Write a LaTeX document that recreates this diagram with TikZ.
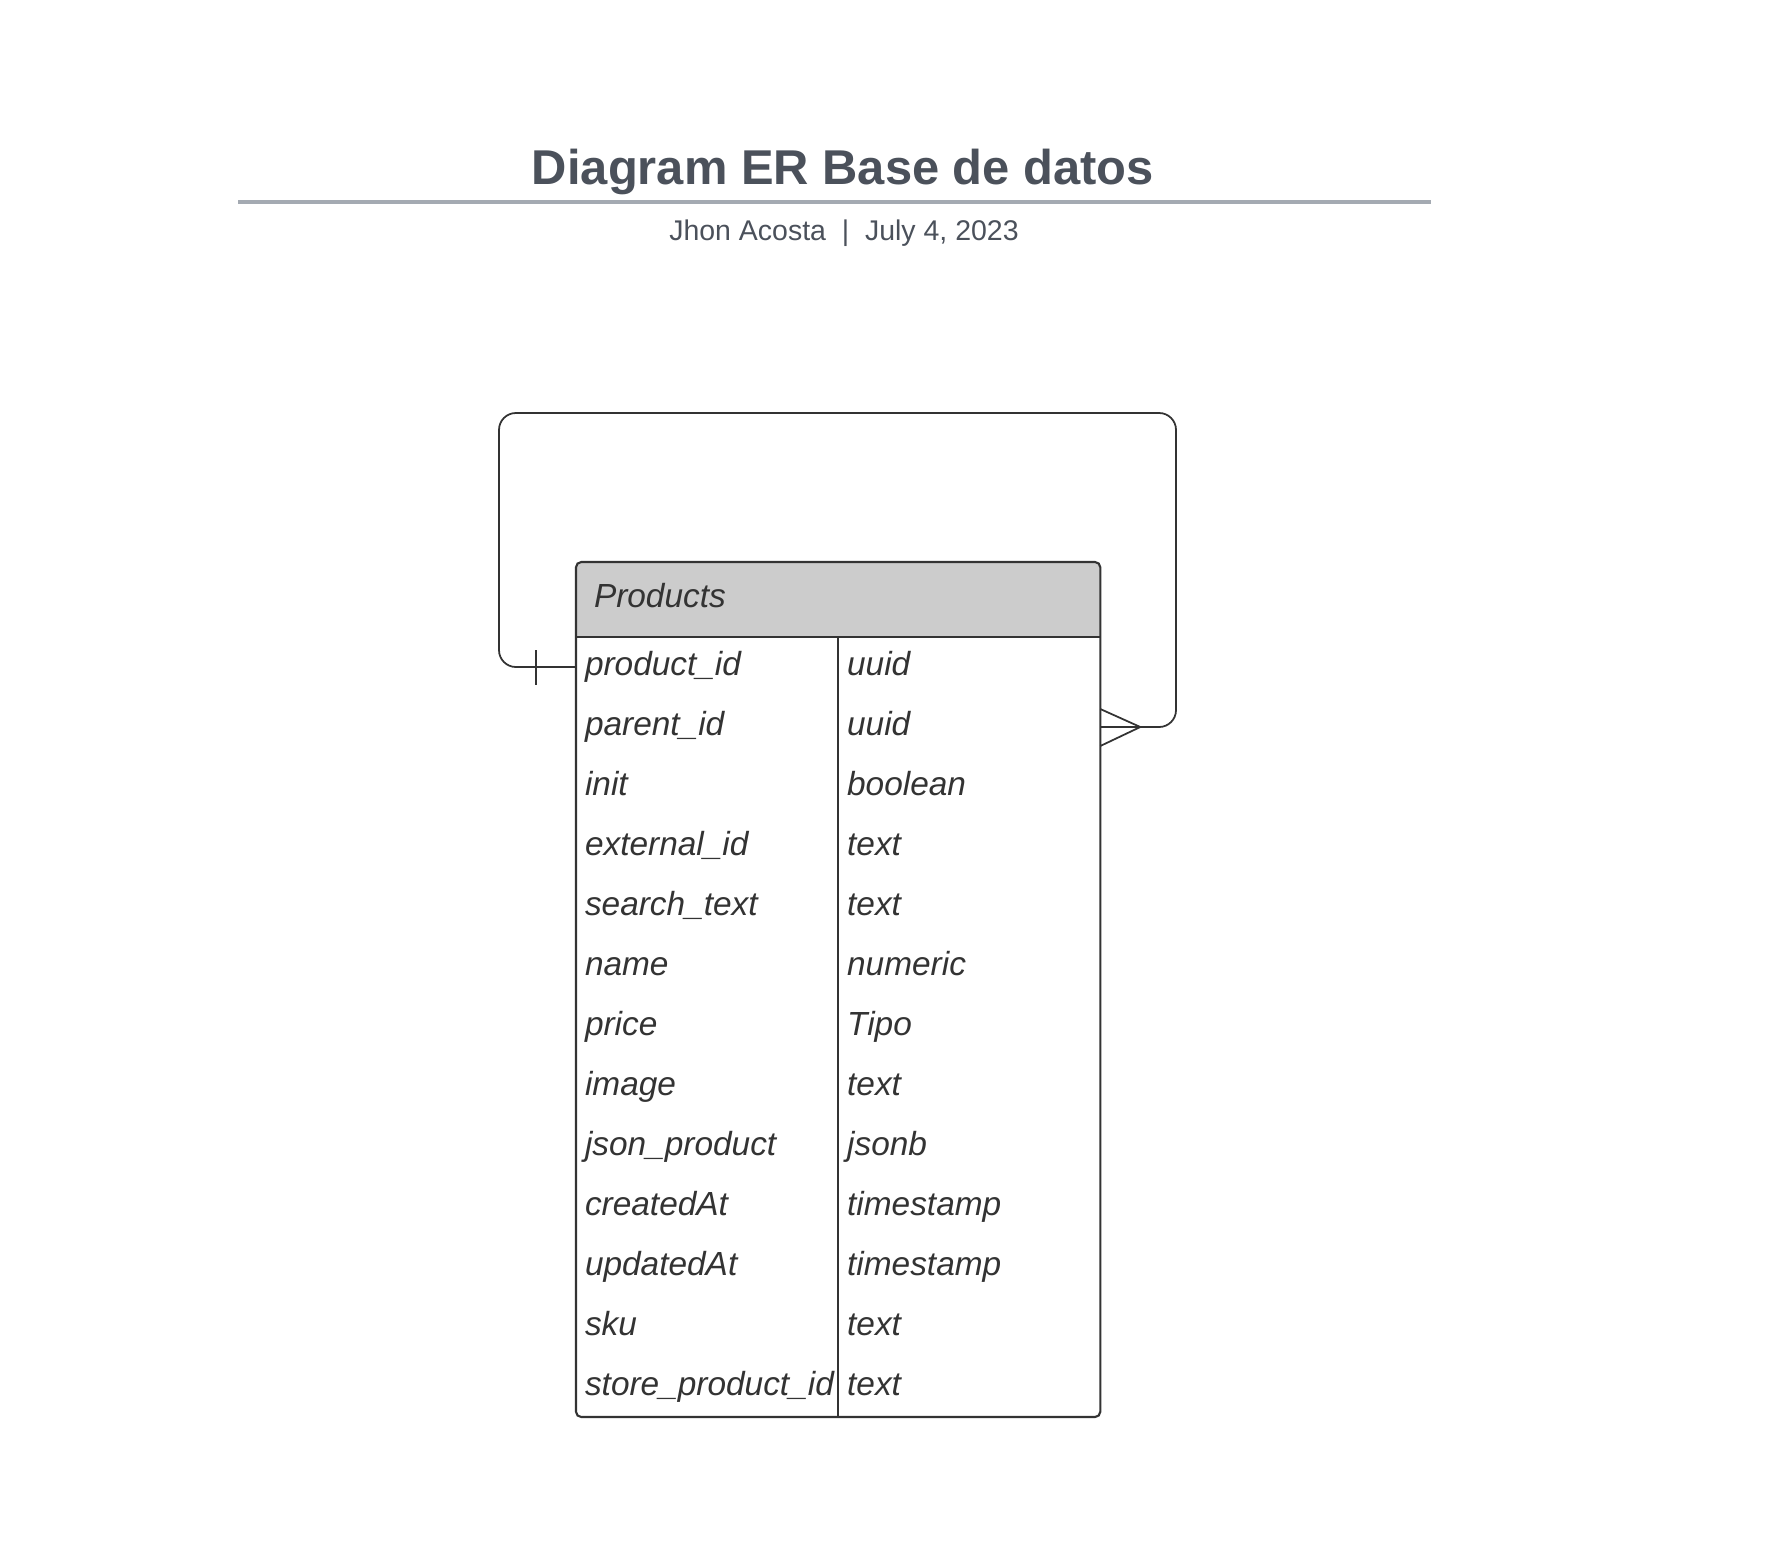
\documentclass[tikz,border=0pt]{standalone}
\usepackage{fontspec}
\setmainfont{Liberation Sans}
\usetikzlibrary{positioning, calc}
\definecolor{ink}{HTML}{333333}
\definecolor{titleink}{HTML}{4B515B}
\definecolor{rulegrey}{HTML}{A4AAB2}
\definecolor{headgrey}{HTML}{CCCCCC}
\tikzset{
  diagtitle/.style = {font=\fontsize{13.9}{16}\selectfont\bfseries, text=titleink, anchor=base, inner sep=0pt},
  byline/.style    = {font=\fontsize{8.1}{10}\selectfont, text=titleink, anchor=base, inner sep=0pt},
  cell/.style      = {font=\fontsize{9.5}{11}\selectfont\itshape, text=ink, align=left,
                      text width=2.44cm, inner xsep=0.09cm, inner ysep=0pt, outer sep=0pt,
                      text height=0.75em, text depth=0.25em, minimum height=0.6cm},
  frame/.style     = {draw=ink, line width=0.6pt},
  rel/.style       = {draw=ink, line width=0.5pt},
}
\begin{document}
\begin{tikzpicture}[x=0.01cm, y=-0.01cm]
  \useasboundingbox (0,0) rectangle (1778,1545);

  \node[diagtitle] (title) at (843,184) {Diagram ER Base de datos};
  \draw[rulegrey, line width=1pt] (238,202) -- (1431,202);
  \node[byline] (byline) at (844,240) {Jhon Acosta~~|~~July 4, 2023};

  % table
  \fill[headgrey, rounded corners=1.5pt] (576,562) rectangle (1100,637);
  \fill[headgrey] (576,610) rectangle (1100,637);
  \node[cell, anchor=west, inner xsep=0.18cm] (head) at (576,599) {Products};

  \foreach \fname/\ftype [count=\i] in {product\_id/uuid, parent\_id/uuid, init/boolean,
      external\_id/text, search\_text/text, name/numeric, price/Tipo, image/text,
      json\_product/jsonb, createdAt/timestamp, updatedAt/timestamp, sku/text,
      store\_product\_id/text} {
    \node[cell, anchor=west] (n\i) at (576,607+60*\i) {\fname};
    \node[cell, right=0pt of n\i] (t\i) {\ftype};
  }

  \draw[frame, rounded corners=1.5pt] (576,562) rectangle (t13.south east);
  \draw[frame] (n1.north west) -- (t1.north east);
  \draw[frame] (n1.north east) -- (n13.south east);

  % self relation
  \coordinate (loopnw) at (499,413);
  \coordinate (loopne) at (1176,413);
  \draw[rel, rounded corners=4.8pt] (n1.west) -| (loopnw) -- (loopne) |- (t2.east);
  \draw[rel] ($(n1.west)+(-40,-17)$) -- ++(0,35);
  \draw[rel] ($(t2.east)+(0,-18)$) -- ($(t2.east)+(40,0)$) -- ($(t2.east)+(0,19)$);
\end{tikzpicture}
\end{document}
